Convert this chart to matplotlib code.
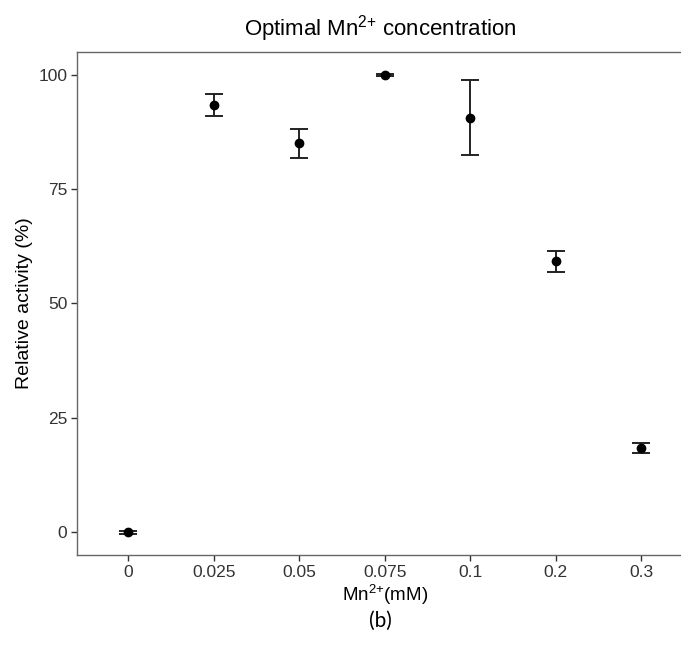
import matplotlib
matplotlib.use("Agg")
import matplotlib.pyplot as plt

# Mn2+ concentrations (mM) shown as categories
concentrations = ["0", "0.025", "0.05", "0.075", "0.1", "0.2", "0.3"]
activity = [0.0, 93.4, 85.0, 100.0, 90.6, 59.2, 18.4]
activity_err = [0.3, 2.45, 3.1, 0.2, 8.25, 2.25, 1.0]

plt.rcParams['font.family'] = ['Liberation Sans', 'DejaVu Sans']
plt.rcParams['mathtext.fontset'] = 'custom'
plt.rcParams['mathtext.rm'] = 'Liberation Sans'

fig = plt.figure(figsize=(6.81, 6.62), dpi=100)
# right edge runs past the image, as in the cropped original
ax = fig.add_axes([0.113, 0.1616, 0.904, 0.76])

pos = list(range(len(concentrations)))
ax.errorbar(pos, activity, yerr=activity_err, fmt='o', color='black',
            ecolor='#222222', elinewidth=1.4, capsize=6.2, capthick=1.4,
            markersize=6, zorder=3)

ax.set_xlim(-0.6, len(concentrations) - 0.4)
ax.set_ylim(-5, 105)
ax.set_xticks(pos)
ax.set_xticklabels(concentrations)
ax.set_yticks([0, 25, 50, 75, 100])

for s in ax.spines.values():
    s.set_color('#666666')
    s.set_linewidth(1.0)
ax.tick_params(colors='#333333', labelcolor='#333333', labelsize=12.5,
               length=4, width=1.0, pad=3)

ax.set_xlabel(r"Mn$^{\mathregular{2{+}}}$(mM)", fontsize=13.5, labelpad=2)
ax.set_ylabel("Relative activity (%)", fontsize=14, labelpad=4)
fig.text(0.558, 0.957, r"Optimal Mn$^{\mathregular{2{+}}}$ concentration",
         ha='center', va='center', fontsize=16)
fig.text(0.558, 0.062, "(b)", ha='center', va='center', fontsize=15,
         family=['Lato', 'DejaVu Sans'])

fig.savefig("out.png", dpi=100)
